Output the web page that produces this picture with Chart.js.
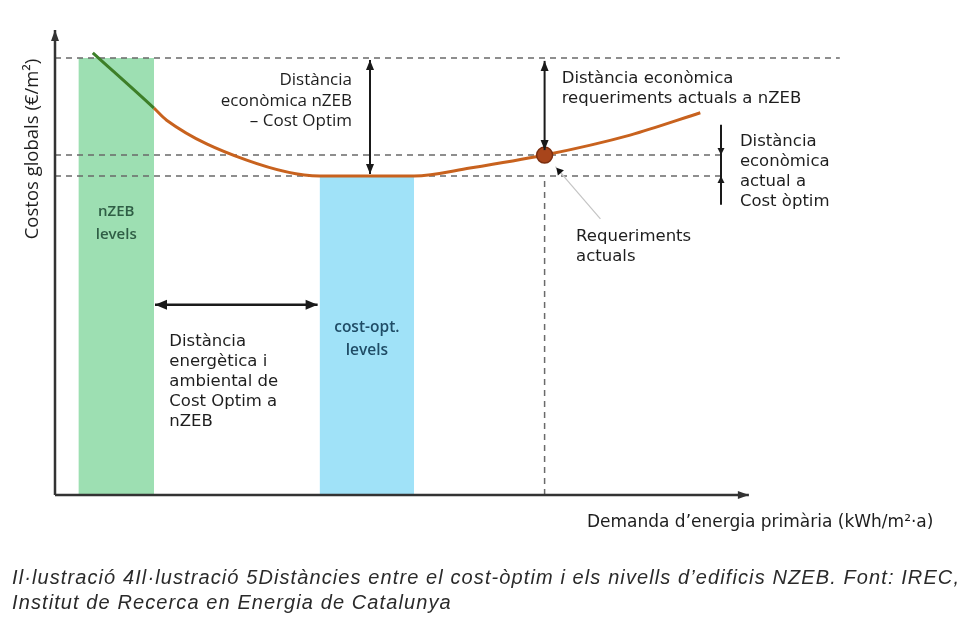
<!DOCTYPE html>
<html>
<head>
<meta charset="utf-8">
<script src="https://cdn.jsdelivr.net/npm/chart.js@4.4.0/dist/chart.umd.min.js"></script>
<style>
  html, body { margin: 0; padding: 0; background: #fff; }
</style>
</head>
<body>
<canvas id="myChart" width="969" height="639"></canvas>
<script>
// corba de costos globals (unitats arbitràries, 0-100)
var demanda = [4.2, 11.0, 12.4, 21.3, 29.4, 39.9, 46.1, 54.4, 63.9, 71.7];
var costos  = [95.1, 83.2, 80.6, 72.0, 68.6, 68.6, 70.3, 73.1, 77.4, 82.2];

// nivells de cost
var nivellNzeb = 94.0;
var nivellActual = 73.1;
var nivellOptim = 68.6;
var demandaActual = 54.4;

// franges de nivells
var franjaNzeb = [2.6, 11.0];
var franjaCostOpt = [29.4, 39.9];

// textos
var titolY = "Costos globals (€/m²)";
var titolX = "Demanda d’energia primària (kWh/m²·a)";
var peu = [
  "Il·lustració 4Il·lustració 5Distàncies entre el cost-òptim i els nivells d’edificis NZEB. Font: IREC,",
  "Institut de Recerca en Energia de Catalunya"
];

var verd = '#3d7f28';
var taronja = '#c8621e';
var gris = '#6a6a6a';

function pts(xs, ys) {
  return xs.map(function(x, i){ return {x: x, y: ys[i]}; });
}

function fletxa(ctx, x1, y1, x2, y2, cap1, cap2, llarg, ample) {
  ctx.beginPath();
  ctx.moveTo(x1, y1);
  ctx.lineTo(x2, y2);
  ctx.stroke();
  var ang = Math.atan2(y2 - y1, x2 - x1);
  function cap(x, y, a) {
    ctx.beginPath();
    ctx.moveTo(x, y);
    ctx.lineTo(x - llarg * Math.cos(a) + ample * Math.sin(a), y - llarg * Math.sin(a) - ample * Math.cos(a));
    ctx.lineTo(x - llarg * Math.cos(a) - ample * Math.sin(a), y - llarg * Math.sin(a) + ample * Math.cos(a));
    ctx.closePath();
    ctx.fill();
  }
  if (cap2) cap(x2, y2, ang);
  if (cap1) cap(x1, y1, ang + Math.PI);
}

function linies(ctx, text, x, y, pas) {
  text.forEach(function(t, i){ ctx.fillText(t, x, y + i * pas); });
}

var anotacions = {
  id: 'anotacions',
  afterDatasetsDraw: function(chart) {
    var ctx = chart.ctx;
    var sx = chart.scales.x, sy = chart.scales.y;
    var X = function(v){ return sx.getPixelForValue(v); };
    var Y = function(v){ return sy.getPixelForValue(v); };
    ctx.save();

    // eixos
    ctx.lineWidth = 2.5;
    ctx.strokeStyle = '#333';
    ctx.fillStyle = '#333';
    fletxa(ctx, X(0), Y(0), X(0), Y(100), false, true, 11, 4);
    fletxa(ctx, X(0), Y(0), X(77.1), Y(0), false, true, 11, 4);

    // distàncies
    ctx.strokeStyle = '#1a1a1a';
    ctx.fillStyle = '#1a1a1a';
    ctx.lineWidth = 2;
    fletxa(ctx, X(35.0), Y(nivellNzeb) + 2, X(35.0), Y(nivellOptim) - 2, true, true, 10, 4);
    fletxa(ctx, X(demandaActual), Y(nivellNzeb) + 3, X(demandaActual), Y(nivellActual) - 5, true, true, 10, 4);
    ctx.lineWidth = 2.5;
    fletxa(ctx, X(franjaNzeb[1]) + 1, Y(40.9), X(franjaCostOpt[0]) - 2, Y(40.9), true, true, 12, 5);

    // distància actual a cost òptim
    ctx.lineWidth = 2;
    ctx.beginPath();
    ctx.moveTo(X(74.0), Y(79.6));
    ctx.lineTo(X(74.0), Y(62.4));
    ctx.stroke();
    fletxa(ctx, X(74.0), Y(nivellActual) - 8, X(74.0), Y(nivellActual), false, true, 7, 3.5);
    fletxa(ctx, X(74.0), Y(nivellOptim) + 8, X(74.0), Y(nivellOptim), false, true, 7, 3.5);

    // línia guia requeriments actuals
    ctx.strokeStyle = '#c4c4c4';
    ctx.lineWidth = 1.2;
    ctx.beginPath();
    ctx.moveTo(X(55.6), Y(70.6));
    ctx.lineTo(X(60.6), Y(59.4));
    ctx.stroke();
    ctx.fillStyle = '#111';
    fletxa(ctx, X(56.6), Y(68.4), X(55.7), Y(70.4), false, true, 7, 4);

    // textos de les franges
    ctx.textAlign = 'center';
    ctx.textBaseline = 'middle';
    ctx.font = '600 15px "Open Sans"';
    ctx.fillStyle = '#2f5e45';
    linies(ctx, ['nZEB', 'levels'], X((franjaNzeb[0] + franjaNzeb[1]) / 2), Y(60.9), 23);
    ctx.font = '600 15.5px "Open Sans"';
    ctx.fillStyle = '#1f4c66';
    linies(ctx, ['cost-opt.', 'levels'], X((franjaCostOpt[0] + franjaCostOpt[1]) / 2), Y(36.1), 23);

    // etiquetes
    ctx.fillStyle = '#1e1e1e';
    ctx.font = '17px "Open Sans"';
    ctx.textAlign = 'right';
    linies(ctx, ['Distància', 'econòmica nZEB', '– Cost Optim'], X(33.0), Y(89.2), 20.5);

    ctx.font = '16.5px "DejaVu Sans"';
    ctx.textAlign = 'left';
    linies(ctx, ['Distància econòmica', 'requeriments actuals a nZEB'], X(56.3), Y(89.5), 20);
    linies(ctx, ['Distància', 'econòmica', 'actual a', 'Cost òptim'], X(76.1), Y(75.9), 20);
    linies(ctx, ['Requeriments', 'actuals'], X(57.9), Y(55.5), 20);
    linies(ctx, ['Distància', 'energètica i', 'ambiental de', 'Cost Optim a', 'nZEB'], X(12.7), Y(32.9), 20);

    // títols d'eixos
    ctx.font = '17px "DejaVu Sans"';
    ctx.textAlign = 'right';
    ctx.fillText(titolX, X(97.6), Y(-6.0), 352);

    ctx.save();
    ctx.translate(X(-2.5), Y(74.4));
    ctx.rotate(-Math.PI / 2);
    ctx.textAlign = 'center';
    ctx.font = '18.5px "Open Sans"';
    ctx.fillText(titolY, 0, 0);
    ctx.restore();

    // peu
    ctx.textAlign = 'left';
    ctx.fillStyle = '#2a2a2a';
    ctx.font = 'italic 20px "Liberation Sans"';
    ctx.letterSpacing = '1.1px';
    ctx.fillText(peu[0], 12, 578, 953);
    ctx.fillText(peu[1], 12, 603);
    ctx.letterSpacing = '0px';

    ctx.restore();
  }
};

var ctx = document.getElementById("myChart").getContext('2d');
var myChart = new Chart(ctx, {
  type: 'line',
  data: {
    datasets: [
      {
        label: 'Requeriments actuals',
        data: [{x: demandaActual, y: nivellActual}],
        showLine: false,
        pointRadius: 8,
        pointBackgroundColor: '#a8451b',
        pointBorderColor: '#7c2f10',
        pointBorderWidth: 1.5
      },
      {
        label: 'Costos globals',
        data: pts(demanda, costos),
        borderWidth: 3,
        borderColor: taronja,
        cubicInterpolationMode: 'monotone',
        pointRadius: 0,
        segment: {
          borderColor: function(c){ return c.p1.parsed.x <= franjaNzeb[1] ? verd : taronja; }
        }
      },
      {
        label: 'nivell nZEB',
        data: pts([0, 87.2], [nivellNzeb, nivellNzeb]),
        borderColor: gris, borderWidth: 1.5, borderDash: [6, 5], pointRadius: 0
      },
      {
        label: 'nivell actual',
        data: pts([0, 74.1], [nivellActual, nivellActual]),
        borderColor: gris, borderWidth: 1.5, borderDash: [6, 5], pointRadius: 0
      },
      {
        label: 'nivell òptim',
        data: pts([0, 74.1], [nivellOptim, nivellOptim]),
        borderColor: gris, borderWidth: 1.5, borderDash: [6, 5], pointRadius: 0
      },
      {
        label: 'demanda actual',
        data: pts([demandaActual, demandaActual], [0, nivellOptim]),
        borderColor: gris, borderWidth: 1.5, borderDash: [6, 5], pointRadius: 0
      },
      {
        label: 'nZEB levels',
        data: pts(franjaNzeb, [nivellNzeb, nivellNzeb]),
        borderWidth: 0, pointRadius: 0,
        fill: 'origin',
        backgroundColor: '#9ddfb2'
      },
      {
        label: 'cost-opt. levels',
        data: pts(franjaCostOpt, [nivellOptim, nivellOptim]),
        borderWidth: 0, pointRadius: 0,
        fill: 'origin',
        backgroundColor: '#a0e2f8'
      }
    ]
  },
  options: {
    responsive: false,
    animation: false,
    layout: { padding: { left: 55, top: 30, right: 14, bottom: 144 } },
    scales: {
      x: { type: 'linear', min: 0, max: 100, display: false },
      y: { type: 'linear', min: 0, max: 100, display: false }
    },
    plugins: {
      legend: { display: false },
      tooltip: { enabled: false }
    }
  },
  plugins: [anotacions]
});
</script>
</body>
</html>
